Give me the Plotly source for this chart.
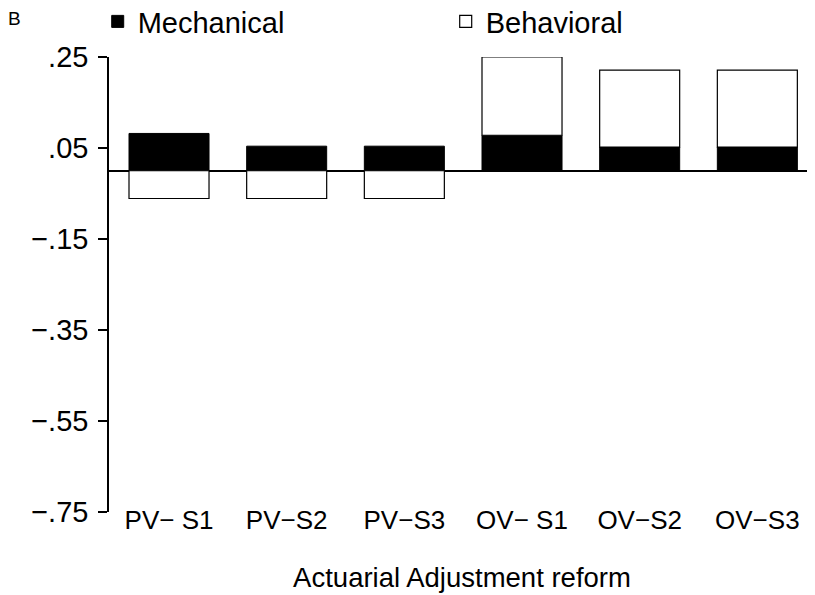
import plotly.graph_objects as go

# Data
categories = ["PV\u2212 S1", "PV\u2212S2", "PV\u2212S3", "OV\u2212 S1", "OV\u2212S2", "OV\u2212S3"]
mechanical = [0.082, 0.054, 0.054, 0.078, 0.052, 0.052]
behavioral = [-0.061, -0.061, -0.061, 0.172, 0.169, 0.169]

y_tickvals = [0.25, 0.05, -0.15, -0.35, -0.55, -0.75]
y_ticktext = [".25", ".05", "\u2212.15", "\u2212.35", "\u2212.55", "\u2212.75"]

FONT = "Liberation Sans, Arial, sans-serif"

fig = go.Figure()
fig.add_trace(go.Bar(
    x=categories, y=mechanical, name="Mechanical",
    marker=dict(color="black", line=dict(color="black", width=1)),
    width=0.68,
))
fig.add_trace(go.Bar(
    x=categories, y=behavioral, name="Behavioral",
    marker=dict(color="white", line=dict(color="black", width=1.2)),
    width=0.68,
))

# page body has an 8px default margin, so the figure is 8px smaller
fig.update_layout(
    width=807, height=587,
    barmode="relative",
    plot_bgcolor="white", paper_bgcolor="white",
    margin=dict(l=101, r=0, t=49, b=83, autoexpand=False),
    font=dict(family=FONT, color="black", size=26),
    legend=dict(
        orientation="h", x=-0.016, y=1.134, xanchor="left", yanchor="top",
        font=dict(size=29), entrywidth=303, entrywidthmode="pixels",
        bgcolor="rgba(0,0,0,0)",
    ),
    annotations=[dict(
        text="B", xref="paper", yref="paper", x=-0.134, y=1.085,
        xanchor="center", yanchor="middle", showarrow=False,
        font=dict(size=19),
    )],
)

fig.update_xaxes(
    range=[-0.51, 5.49], showline=False, ticks="", showgrid=False,
    tickfont=dict(size=26), ticklabelstandoff=-10,
    title=dict(text="Actuarial Adjustment reform", font=dict(size=27.5), standoff=33),
)
fig.update_yaxes(
    range=[-0.75, 0.25], tickvals=y_tickvals, ticktext=y_ticktext,
    showline=True, linecolor="black", linewidth=1.5,
    ticks="outside", ticklen=9, tickwidth=1.5, tickcolor="black",
    showgrid=False, zeroline=True, zerolinecolor="black", zerolinewidth=1.5,
    tickfont=dict(size=29), ticklabelstandoff=4,
)

fig.write_html("out.html")
